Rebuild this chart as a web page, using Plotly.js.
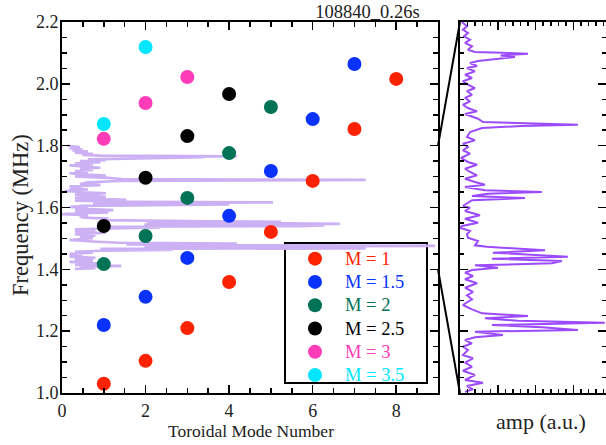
<!DOCTYPE html>
<html>
<head>
<meta charset="utf-8">
<script src="https://cdn.plot.ly/plotly-3.0.1.min.js"></script>
<style>
html,body{margin:0;padding:0;background:#fff;}
#chart{width:606px;height:445px;}
#chart .xtick text, #chart .ytick text { font-family: 'Liberation Serif', serif !important; }
</style>
</head>
<body>
<div id="chart"></div>
<script>
// Mode frequencies (MHz) vs toroidal mode number, per M family
const n_M1 = [1, 2, 3, 4, 5, 6, 7, 8];
const f_M1 = [1.030, 1.104, 1.210, 1.359, 1.521, 1.686, 1.854, 2.016];
const n_M15 = [1, 2, 3, 4, 5, 6, 7];
const f_M15 = [1.220, 1.311, 1.437, 1.573, 1.718, 1.886, 2.064];
const n_M2 = [1, 2, 3, 4, 5];
const f_M2 = [1.417, 1.508, 1.631, 1.776, 1.925];
const n_M25 = [1, 2, 3, 4];
const f_M25 = [1.540, 1.696, 1.831, 1.967];
const n_M3 = [1, 2, 3];
const f_M3 = [1.822, 1.938, 2.022];
const n_M35 = [1, 2];
const f_M35 = [1.870, 2.119];

// Measured spectrum: frequency (MHz) and amplitude (a.u.)
const specFreq = [1.8000,1.7954,1.7917,1.7881,1.7846,1.7809,1.7774,1.7738,1.7701,1.7677,1.7658,1.7639,1.7623,1.7596,1.7580,1.7558,1.7526,1.7504,1.7468,1.7432,1.7396,1.7361,1.7324,1.7288,1.7253,1.7216,1.7181,1.7145,1.7108,1.7073,1.7037,1.7008,1.6957,1.6922,1.6893,1.6879,1.6857,1.6814,1.6760,1.6724,1.6688,1.6652,1.6617,1.6580,1.6534,1.6491,1.6461,1.6418,1.6383,1.6347,1.6310,1.6275,1.6246,1.6221,1.6185,1.6167,1.6149,1.6124,1.6102,1.6078,1.6052,1.6016,1.5998,1.5962,1.5916,1.5879,1.5836,1.5800,1.5782,1.5747,1.5711,1.5674,1.5639,1.5592,1.5577,1.5556,1.5538,1.5513,1.5485,1.5469,1.5448,1.5423,1.5398,1.5377,1.5351,1.5326,1.5297,1.5261,1.5226,1.5183,1.5135,1.5089,1.5053,1.5010,1.4984,1.4949,1.4902,1.4859,1.4830,1.4805,1.4779,1.4758,1.4733,1.4708,1.4679,1.4661,1.4625,1.4600,1.4571,1.4536,1.4499,1.4464,1.4410,1.4374,1.4327,1.4283,1.4240,1.4194,1.4140,1.4111,1.4075,1.4040,1.4014];
const specAmp = [0.12,0.43,0.18,0.49,0.25,0.62,0.31,0.74,0.49,0.92,4.19,2.50,3.39,1.66,1.11,0.62,1.05,0.43,0.92,0.31,0.74,0.18,0.49,0.92,0.43,0.74,0.31,0.62,0.18,0.49,1.05,0.31,1.11,1.42,7.27,3.82,1.36,0.62,0.43,0.92,0.18,0.49,0.18,0.62,0.06,0.49,1.05,0.31,0.62,1.05,0.31,0.92,1.54,0.31,1.54,5.05,1.72,0.74,4.00,0.74,0.49,0.18,0.62,0.31,1.23,0.31,1.11,0.12,0.00,0.62,0.43,0.49,1.11,0.92,1.66,3.51,5.24,2.03,5.36,6.65,1.97,6.28,5.67,0.92,2.34,0.74,0.31,0.80,0.31,1.05,0.31,0.80,0.43,0.74,0.49,0.18,0.74,1.36,4.19,1.54,3.57,8.93,1.97,5.05,7.27,0.92,2.65,0.92,0.31,0.74,0.18,0.49,0.18,0.80,0.31,0.74,0.18,0.92,0.31,1.42,0.43,0.80,0.31];

const SERIF = 'Liberation Serif';
const colors = {m1:'#ff2200', m15:'#0a32ff', m2:'#007255', m25:'#000000', m3:'#ff3cb8', m35:'#00e6ff'};

function lbl(txt, c){ return '<span style="color:' + c + ';font-size:18.5px">' + txt + '</span>'; }

const traces = [
  {x: specAmp, y: specFreq, xaxis:'x', yaxis:'y', mode:'lines', line:{color:'#cbb0f4', width:2.6}, showlegend:false, hoverinfo:'skip'},
  {x: specAmp, y: specFreq, xaxis:'x2', yaxis:'y2', mode:'lines', line:{color:'#9b4bfb', width:2}, showlegend:false, hoverinfo:'skip'},
  {x: n_M1, y: f_M1, mode:'markers', marker:{color:colors.m1, size:14}, name: lbl('M = 1', colors.m1)},
  {x: n_M15, y: f_M15, mode:'markers', marker:{color:colors.m15, size:14}, name: lbl('M = 1.5', colors.m15)},
  {x: n_M2, y: f_M2, mode:'markers', marker:{color:colors.m2, size:14}, name: lbl('M = 2', colors.m2)},
  {x: n_M25, y: f_M25, mode:'markers', marker:{color:colors.m25, size:14}, name: lbl('M = 2.5', colors.m25)},
  {x: n_M3, y: f_M3, mode:'markers', marker:{color:colors.m3, size:14}, name: lbl('M = 3', colors.m3)},
  {x: n_M35, y: f_M35, mode:'markers', marker:{color:colors.m35, size:14}, name: lbl('M = 3.5', colors.m35)}
];

const d1 = 0.6912, d2 = 0.7316;
const tickFont = {family: SERIF, size: 18, color: '#222'};
const px2x = p => (p - 62) / 544;
const py2y = p => (393 - p) / 371;

const layout = {
  width: 606, height: 445,
  font: {family: SERIF, size: 18, color: '#222'},
  margin: {l: 62, r: 0, t: 22, b: 52},
  paper_bgcolor: '#fff', plot_bgcolor: '#fff',
  showlegend: true,
  title: {text: '108840_0.26s', x: 0.6065, xref: 'container', xanchor: 'center', y: 0.973, yref: 'container', yanchor: 'middle', font: {family: SERIF, size: 18.5, color: '#222'}},
  xaxis: {domain: [0, d1], range: [0, 9], tickmode: 'array', tickvals: [0,2,4,6,8], ticktext: ['0','2','4','6','8'],
          ticks: 'inside', ticklen: 8, tickwidth: 1.5, tickcolor: '#000',
          minor: {tickmode: 'linear', tick0: 0, dtick: 0.5, ticks: 'inside', ticklen: 5, tickwidth: 1.5, tickcolor: '#000'},
          showline: true, linewidth: 2, linecolor: '#000', mirror: 'ticks', showgrid: false, zeroline: false,
          tickfont: tickFont},
  yaxis: {domain: [0, 1], range: [1.0, 2.2], tick0: 1.0, dtick: 0.2, tickformat: '.1f',
          ticks: 'inside', ticklen: 8, tickwidth: 1.5, tickcolor: '#000',
          minor: {tick0: 1.0, dtick: 0.05, ticks: 'inside', ticklen: 5, tickwidth: 1.5, tickcolor: '#000'},
          showline: true, linewidth: 2, linecolor: '#000', mirror: 'ticks', showgrid: false, zeroline: false,
          tickfont: tickFont, ticklabelstandoff: -2},
  xaxis2: {domain: [d2, 1], anchor: 'y2', range: [0, 9], tick0: 0, dtick: 2.3316,
           ticks: 'inside', ticklen: 8, tickwidth: 1.5, tickcolor: '#000',
           minor: {tick0: 0, dtick: 0.46632, ticks: 'inside', ticklen: 4, tickwidth: 1.5, tickcolor: '#000'},
           showticklabels: false, showline: true, linewidth: 2, linecolor: '#000', mirror: 'ticks', showgrid: false, zeroline: false},
  yaxis2: {domain: [0, 1], anchor: 'x2', range: [1.4, 1.8], tick0: 1.4, dtick: 0.4/6,
           ticks: 'inside', ticklen: 8, tickwidth: 1.5, tickcolor: '#000',
           minor: {tick0: 1.4, dtick: 0.4/24, ticks: 'inside', ticklen: 4, tickwidth: 1.5, tickcolor: '#000'},
           showticklabels: false, showline: true, linewidth: 2, linecolor: '#000', mirror: 'ticks', showgrid: false, zeroline: false},
  legend: {x: px2x(285), y: py2y(242), xanchor: 'left', yanchor: 'top', xref: 'paper', yref: 'paper',
           bgcolor: 'rgba(0,0,0,0)', borderwidth: 0, itemwidth: 50, tracegroupgap: 0,
           font: {family: SERIF, size: 15.6, color: '#000'}},
  shapes: [
    {type: 'rect', xref: 'paper', yref: 'paper', x0: px2x(285), x1: px2x(427), y0: py2y(383), y1: py2y(243), layer: 'below', fillcolor: '#fff', line: {color: '#000', width: 2}},
    {type: 'line', xref: 'paper', yref: 'paper', x0: d1, y0: (1.8-1.0)/1.2, x1: d2, y1: 1, line: {color: '#000', width: 2}},
    {type: 'line', xref: 'paper', yref: 'paper', x0: d1, y0: (1.4-1.0)/1.2, x1: d2, y1: 0, line: {color: '#000', width: 2}}
  ],
  annotations: [
    {text: 'Frequency (MHz)', xref: 'paper', yref: 'paper', x: px2x(20), y: py2y(215), xanchor: 'center', yanchor: 'middle', textangle: -90, showarrow: false, font: {family: SERIF, size: 22.5, color: '#222'}},
    {text: 'Toroidal Mode Number', xref: 'paper', yref: 'paper', x: px2x(251), y: py2y(431), xanchor: 'center', yanchor: 'middle', showarrow: false, font: {family: SERIF, size: 17.5, color: '#222'}},
    {text: 'amp (a.u.)', xref: 'paper', yref: 'paper', x: px2x(541), y: py2y(421), xanchor: 'center', yanchor: 'middle', showarrow: false, font: {family: SERIF, size: 22, color: '#222'}}
  ]
};

Plotly.newPlot('chart', traces, layout, {displayModeBar: false, staticPlot: true});
</script>
</body>
</html>
